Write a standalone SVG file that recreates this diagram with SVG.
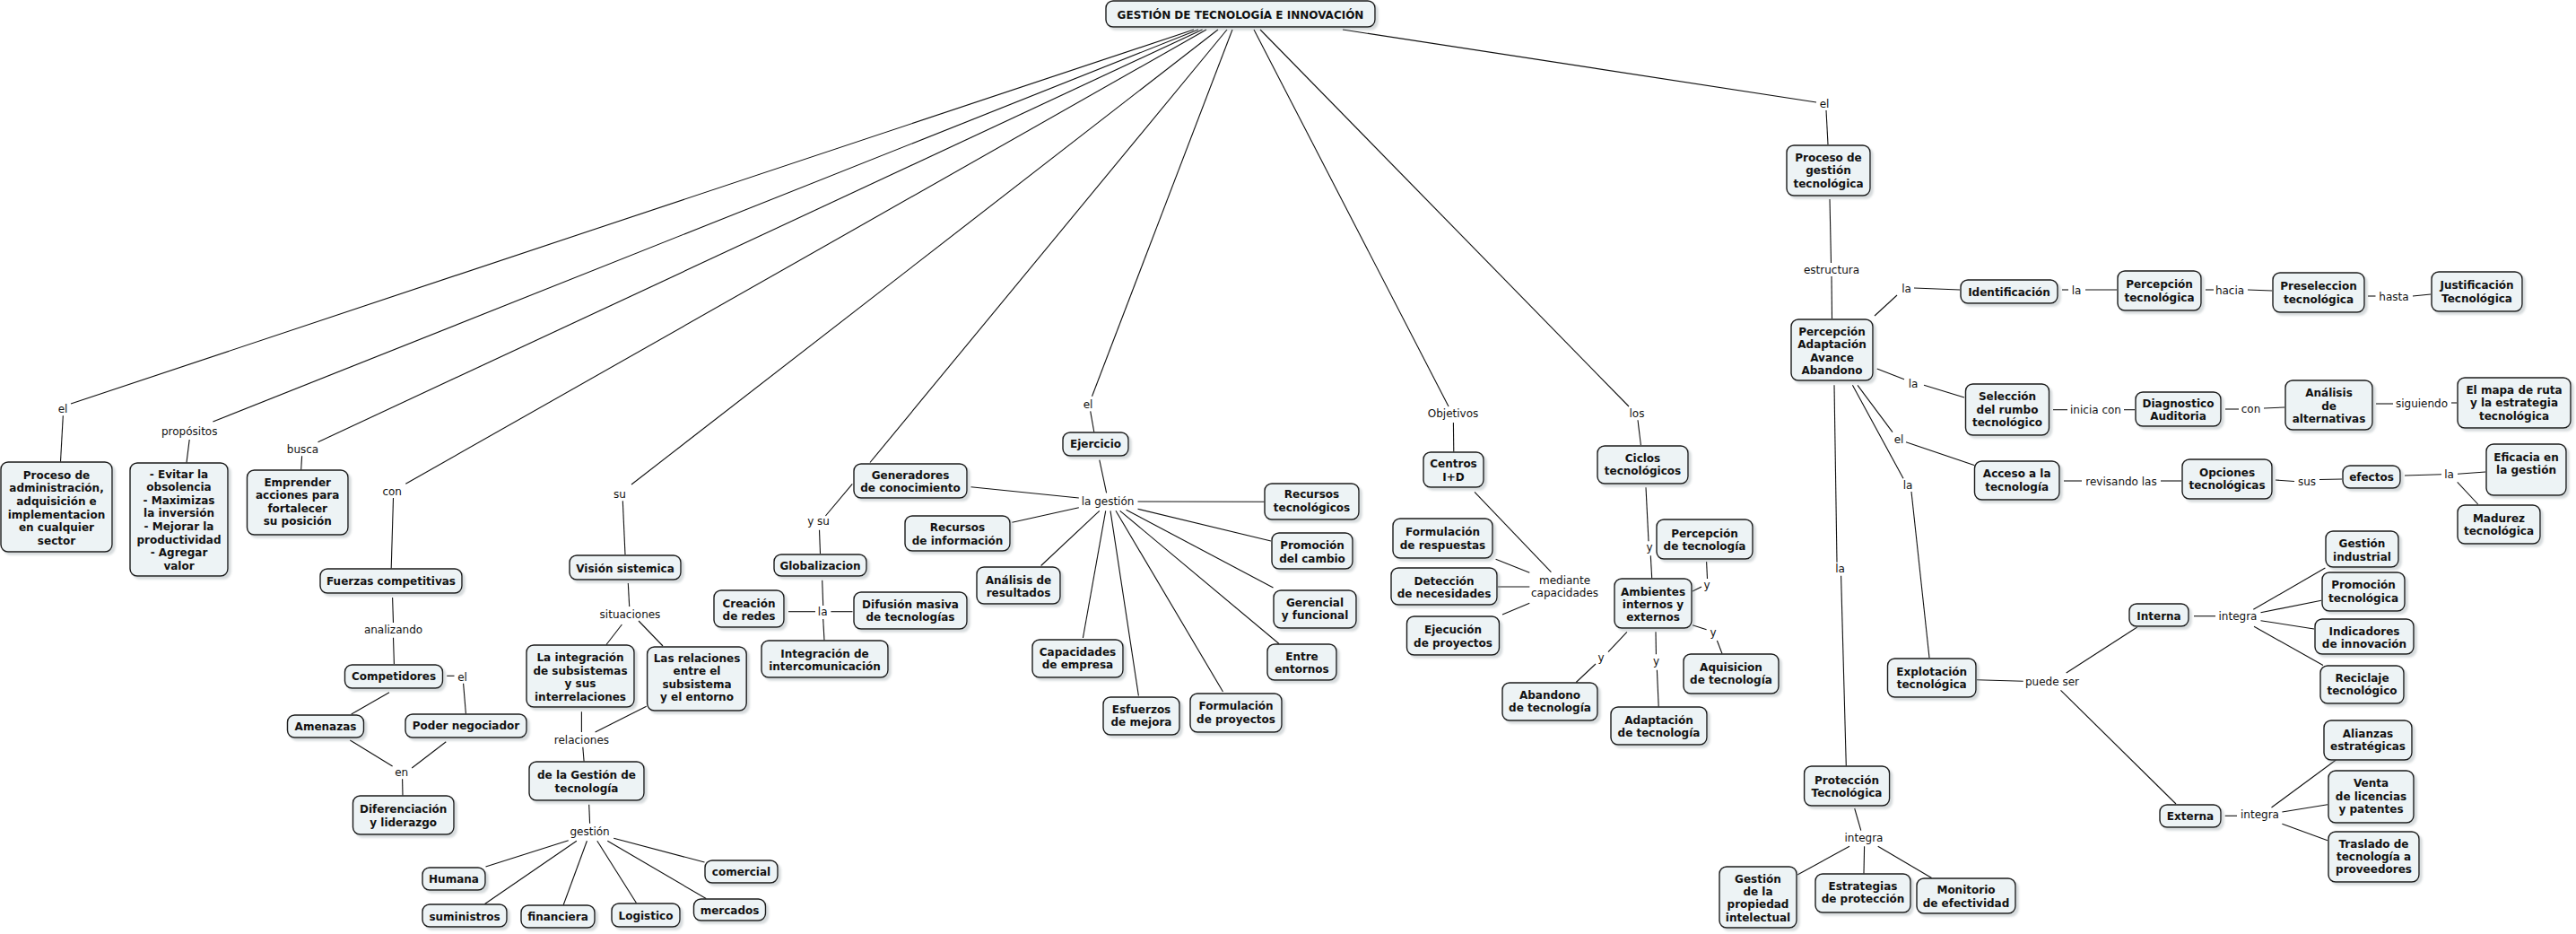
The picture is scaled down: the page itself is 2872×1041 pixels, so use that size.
<svg xmlns="http://www.w3.org/2000/svg" width="2872" height="1041" viewBox="0 0 2872 1041">
<defs>
<filter id="sh" x="-10%" y="-10%" width="130%" height="140%">
<feDropShadow dx="3" dy="3" stdDeviation="1.3" flood-color="#8c979d" flood-opacity="0.35"/>
</filter>
<style>
.node rect{fill:#edf3f5;stroke:#1a1a1a;stroke-width:1.4;filter:url(#sh)}
.node text{font-family:"DejaVu Sans",Verdana,sans-serif;font-weight:bold;font-size:12px;text-anchor:middle;fill:#111}
.lbl text{font-family:"DejaVu Sans",Verdana,sans-serif;font-size:12px;text-anchor:middle;fill:#111}
#connectors line{stroke:#111;stroke-width:1.1;fill:none}
</style>
</defs>
<rect width="2872" height="1041" fill="#fff"/>

<g id="connectors">
<line x1="1497" y1="33" x2="2025" y2="114"/>
<line x1="2036" y1="123" x2="2038" y2="161"/>
<line x1="2040" y1="222" x2="2041.5" y2="293"/>
<line x1="2042" y1="308" x2="2042.5" y2="355"/>
<line x1="2090" y1="352" x2="2115" y2="329"/>
<line x1="2134" y1="321" x2="2185" y2="323"/>
<line x1="2299" y1="323" x2="2306" y2="323"/>
<line x1="2325" y1="323" x2="2360" y2="323"/>
<line x1="2459" y1="323" x2="2468" y2="323"/>
<line x1="2506" y1="323" x2="2533" y2="324"/>
<line x1="2640" y1="330" x2="2648.5" y2="330"/>
<line x1="2690" y1="330" x2="2710" y2="328"/>
<line x1="2092.7" y1="411" x2="2123" y2="422.7"/>
<line x1="2145" y1="429.3" x2="2190" y2="443"/>
<line x1="2289" y1="456.7" x2="2305" y2="456.7"/>
<line x1="2368" y1="456.7" x2="2380" y2="456.7"/>
<line x1="2481" y1="456" x2="2496" y2="456"/>
<line x1="2524" y1="455" x2="2547" y2="454"/>
<line x1="2649" y1="450" x2="2668" y2="450"/>
<line x1="2733" y1="449" x2="2739" y2="449"/>
<line x1="2071" y1="429.3" x2="2110" y2="481.7"/>
<line x1="2125" y1="492.7" x2="2201" y2="518.5"/>
<line x1="2301" y1="536" x2="2321" y2="536"/>
<line x1="2409" y1="536" x2="2432" y2="536"/>
<line x1="2537" y1="535" x2="2558" y2="536.5"/>
<line x1="2586" y1="534.5" x2="2611" y2="534"/>
<line x1="2681" y1="530" x2="2722" y2="528.7"/>
<line x1="2740" y1="528.3" x2="2771" y2="526"/>
<line x1="2739.7" y1="537.3" x2="2762.7" y2="562"/>
<line x1="2065.4" y1="429.3" x2="2122" y2="533.3"/>
<line x1="2131" y1="548" x2="2151" y2="733"/>
<line x1="2204" y1="757.7" x2="2255.7" y2="759.3"/>
<line x1="2303.7" y1="750" x2="2382.8" y2="699"/>
<line x1="2297.5" y1="769.3" x2="2426" y2="896"/>
<line x1="2446" y1="686.7" x2="2470" y2="686.7"/>
<line x1="2512.3" y1="679.3" x2="2592.4" y2="633"/>
<line x1="2520.5" y1="682.7" x2="2588" y2="669.3"/>
<line x1="2520.5" y1="691.7" x2="2580" y2="701"/>
<line x1="2513" y1="698.3" x2="2590" y2="741.5"/>
<line x1="2480.7" y1="909.3" x2="2494" y2="909.3"/>
<line x1="2532.5" y1="900" x2="2604.4" y2="847"/>
<line x1="2544.4" y1="905" x2="2595" y2="896.7"/>
<line x1="2544.4" y1="918.3" x2="2595" y2="936.7"/>
<line x1="2045" y1="429.3" x2="2048" y2="626.7"/>
<line x1="2052.6" y1="641.7" x2="2058.3" y2="853.5"/>
<line x1="2067.7" y1="901" x2="2074.8" y2="925.7"/>
<line x1="2062" y1="943.3" x2="2004" y2="975"/>
<line x1="2078.6" y1="943.3" x2="2078" y2="973.5"/>
<line x1="2093.7" y1="943.3" x2="2153.6" y2="978.5"/>
<line x1="1398" y1="33" x2="1615" y2="453"/>
<line x1="1620.4" y1="471" x2="1620.8" y2="503.5"/>
<line x1="1644" y1="548.3" x2="1729.4" y2="637.7"/>
<line x1="1667.6" y1="623.3" x2="1705.3" y2="638.3"/>
<line x1="1670" y1="654" x2="1705.3" y2="654"/>
<line x1="1675" y1="685" x2="1705.3" y2="672.3"/>
<line x1="1405" y1="33" x2="1816" y2="453"/>
<line x1="1826" y1="468.3" x2="1829.4" y2="496"/>
<line x1="1835" y1="543.3" x2="1838" y2="603.3"/>
<line x1="1840.3" y1="619.3" x2="1841.7" y2="644.5"/>
<line x1="1902.6" y1="626" x2="1903.5" y2="645"/>
<line x1="1897" y1="654" x2="1887" y2="659"/>
<line x1="1887" y1="696.7" x2="1902.6" y2="701.7"/>
<line x1="1914.4" y1="714" x2="1920" y2="728.5"/>
<line x1="1846" y1="704.3" x2="1846.4" y2="729.3"/>
<line x1="1847.4" y1="746.7" x2="1849.2" y2="787.5"/>
<line x1="1813.9" y1="704.3" x2="1793" y2="726.7"/>
<line x1="1779" y1="740" x2="1757.2" y2="760.5"/>
<line x1="1374" y1="33" x2="1217.5" y2="441.7"/>
<line x1="1215.7" y1="458.3" x2="1219.8" y2="481.5"/>
<line x1="1225.8" y1="512.7" x2="1233.6" y2="549.3"/>
<line x1="1202.8" y1="555" x2="1082.5" y2="542.7"/>
<line x1="1202.8" y1="565.7" x2="1128.4" y2="582.3"/>
<line x1="1268.5" y1="559" x2="1409.5" y2="559.3"/>
<line x1="1268.5" y1="567.3" x2="1417" y2="603"/>
<line x1="1255.6" y1="568.3" x2="1419.5" y2="655"/>
<line x1="1248.7" y1="569.3" x2="1426" y2="717.5"/>
<line x1="1244" y1="569.3" x2="1363.5" y2="771"/>
<line x1="1238" y1="569.3" x2="1269.4" y2="775.5"/>
<line x1="1232.7" y1="569.3" x2="1207.4" y2="711"/>
<line x1="1225.8" y1="569.3" x2="1160.6" y2="630.5"/>
<line x1="1368" y1="33" x2="970" y2="515.5"/>
<line x1="950.3" y1="539.3" x2="920.4" y2="575"/>
<line x1="913.5" y1="590.7" x2="914.5" y2="617"/>
<line x1="916.7" y1="646.7" x2="917.7" y2="675"/>
<line x1="879" y1="681.7" x2="909" y2="681.7"/>
<line x1="926.4" y1="681.7" x2="950.5" y2="681.7"/>
<line x1="917.7" y1="690" x2="919" y2="713.5"/>
<line x1="1358" y1="33" x2="704" y2="540"/>
<line x1="694.3" y1="558.3" x2="697" y2="618"/>
<line x1="700.3" y1="650" x2="701.7" y2="676"/>
<line x1="693.4" y1="696" x2="676" y2="718.5"/>
<line x1="712" y1="692" x2="739" y2="720"/>
<line x1="648.4" y1="793.3" x2="648.4" y2="816"/>
<line x1="720.7" y1="787.3" x2="663.6" y2="816"/>
<line x1="649.8" y1="832.7" x2="651.1" y2="848.5"/>
<line x1="656.7" y1="896.7" x2="657.6" y2="917.7"/>
<line x1="633.7" y1="936.7" x2="541.5" y2="966"/>
<line x1="642.9" y1="937.3" x2="540.5" y2="1007.5"/>
<line x1="654.4" y1="937.3" x2="628.2" y2="1008.5"/>
<line x1="665.8" y1="937.3" x2="709.5" y2="1006.5"/>
<line x1="677.3" y1="937.3" x2="787.2" y2="1001.5"/>
<line x1="684.2" y1="934.3" x2="785.5" y2="961"/>
<line x1="1345" y1="33" x2="452.3" y2="539.3"/>
<line x1="438.5" y1="555" x2="436.2" y2="633.5"/>
<line x1="437.6" y1="666" x2="438.5" y2="694"/>
<line x1="438.5" y1="710.7" x2="439.4" y2="740"/>
<line x1="498.2" y1="753.3" x2="506.5" y2="753.3"/>
<line x1="516.6" y1="761.7" x2="519.4" y2="795.5"/>
<line x1="434" y1="771.7" x2="391.7" y2="796"/>
<line x1="390.3" y1="825" x2="437.6" y2="854"/>
<line x1="497.3" y1="826.7" x2="459.2" y2="856"/>
<line x1="448.6" y1="868.3" x2="449" y2="886.5"/>
<line x1="1340.6" y1="33" x2="354.5" y2="492.7"/>
<line x1="336.6" y1="508.3" x2="335.7" y2="523.5"/>
<line x1="1336" y1="33" x2="237.4" y2="470"/>
<line x1="211.2" y1="490" x2="208" y2="515.5"/>
<line x1="1331" y1="33" x2="79" y2="450"/>
<line x1="70.3" y1="463.3" x2="67.5" y2="514.5"/>
</g>

<g id="labels" class="lbl">
<text x="2034" y="119.5">el</text>
<text x="2042" y="305">estructura</text>
<text x="2125.5" y="325.5">la</text>
<text x="2315" y="327.5">la</text>
<text x="2486" y="327.5">hacia</text>
<text x="2669" y="334.5">hasta</text>
<text x="2133" y="432">la</text>
<text x="2336.5" y="461">inicia con</text>
<text x="2509.5" y="459.5">con</text>
<text x="2700" y="453.5">siguiendo</text>
<text x="2117" y="494">el</text>
<text x="2365" y="540.5">revisando las</text>
<text x="2572" y="540.5">sus</text>
<text x="2730.5" y="533">la</text>
<text x="2127" y="544.5">la</text>
<text x="2051.5" y="638">la</text>
<text x="2288" y="763.5">puede ser</text>
<text x="2495" y="691">integra</text>
<text x="2519.5" y="912">integra</text>
<text x="2078" y="938">integra</text>
<text x="1620" y="465">Objetivos</text>
<text x="1744.5" y="650.5">mediante</text>
<text x="1744.5" y="665">capacidades</text>
<text x="1825" y="464.5">los</text>
<text x="1839" y="614">y</text>
<text x="1903" y="656">y</text>
<text x="1910" y="708.5">y</text>
<text x="1846.5" y="741">y</text>
<text x="1785" y="737">y</text>
<text x="1213" y="454.5">el</text>
<text x="1235" y="563">la gestión</text>
<text x="912.6" y="585">y su</text>
<text x="917.2" y="686">la</text>
<text x="70" y="459.5">el</text>
<text x="211.2" y="484.5">propósitos</text>
<text x="337.5" y="504.5">busca</text>
<text x="437.2" y="552">con</text>
<text x="691" y="554.5">su</text>
<text x="438.5" y="706">analizando</text>
<text x="515.5" y="758.5">el</text>
<text x="447.7" y="865">en</text>
<text x="702.5" y="688.5">situaciones</text>
<text x="648.4" y="828.5">relaciones</text>
<text x="657.6" y="931">gestión</text>
</g>

<g id="n-root" class="node"><rect x="1233" y="1" width="300" height="29" rx="8"/><text x="1383" y="21">GESTIÓN DE TECNOLOGÍA E INNOVACIÓN</text></g>
<g id="n-proceso-gestion" class="node"><rect x="1992" y="162" width="93" height="56" rx="8"/><text><tspan x="2038.5" y="179.5">Proceso de</tspan><tspan x="2038.5" y="194.2">gestión</tspan><tspan x="2038.5" y="208.8">tecnológica</tspan></text></g>
<g id="n-percepcion-adaptacion" class="node"><rect x="1997" y="356" width="91" height="68" rx="8"/><text><tspan x="2042.5" y="373.5">Percepción</tspan><tspan x="2042.5" y="388">Adaptación</tspan><tspan x="2042.5" y="402.5">Avance</tspan><tspan x="2042.5" y="417">Abandono</tspan></text></g>
<g id="n-identificacion" class="node"><rect x="2186" y="312" width="108" height="26" rx="8"/><text x="2240" y="329.5">Identificación</text></g>
<g id="n-percepcion-tecnologica" class="node"><rect x="2361" y="302" width="93" height="44" rx="8"/><text><tspan x="2407.5" y="321">Percepción</tspan><tspan x="2407.5" y="335.5">tecnológica</tspan></text></g>
<g id="n-preseleccion" class="node"><rect x="2534" y="304" width="102" height="44" rx="8"/><text><tspan x="2585" y="323">Preseleccion</tspan><tspan x="2585" y="337.5">tecnológica</tspan></text></g>
<g id="n-justificacion" class="node"><rect x="2711" y="303" width="101" height="44" rx="8"/><text><tspan x="2761.5" y="322">Justificación</tspan><tspan x="2761.5" y="336.7">Tecnológica</tspan></text></g>
<g id="n-seleccion" class="node"><rect x="2191.5" y="428" width="93" height="57" rx="8"/><text><tspan x="2238" y="446">Selección</tspan><tspan x="2238" y="460.5">del rumbo</tspan><tspan x="2238" y="475">tecnológico</tspan></text></g>
<g id="n-diagnostico" class="node"><rect x="2381" y="437" width="95" height="38" rx="8"/><text><tspan x="2428.5" y="453.5">Diagnostico</tspan><tspan x="2428.5" y="468">Auditoria</tspan></text></g>
<g id="n-analisis-alternativas" class="node"><rect x="2548" y="424" width="97" height="55" rx="8"/><text><tspan x="2596.5" y="442">Análisis</tspan><tspan x="2596.5" y="456.7">de</tspan><tspan x="2596.5" y="471">alternativas</tspan></text></g>
<g id="n-mapa-ruta" class="node"><rect x="2740" y="421" width="126" height="56" rx="8"/><text><tspan x="2803" y="438.5">El mapa de ruta</tspan><tspan x="2803" y="453">y la estrategia</tspan><tspan x="2803" y="467.7">tecnológica</tspan></text></g>
<g id="n-acceso" class="node"><rect x="2201.5" y="514" width="94.5" height="43" rx="8"/><text><tspan x="2248.7" y="532">Acceso a la</tspan><tspan x="2248.7" y="546.7">tecnología</tspan></text></g>
<g id="n-opciones" class="node"><rect x="2433" y="512" width="100" height="44" rx="8"/><text><tspan x="2483" y="530.5">Opciones</tspan><tspan x="2483" y="545">tecnológicas</tspan></text></g>
<g id="n-efectos" class="node"><rect x="2612" y="519" width="64" height="25" rx="8"/><text x="2644" y="536">efectos</text></g>
<g id="n-eficacia" class="node"><rect x="2772" y="495" width="89" height="57" rx="8"/><text><tspan x="2816.5" y="513.5">Eficacia en</tspan><tspan x="2816.5" y="528">la gestión</tspan></text></g>
<g id="n-madurez" class="node"><rect x="2740" y="563" width="92" height="43" rx="8"/><text><tspan x="2786" y="581.7">Madurez</tspan><tspan x="2786" y="596">tecnológica</tspan></text></g>
<g id="n-gestion-industrial" class="node"><rect x="2593" y="592" width="81" height="40" rx="8"/><text><tspan x="2633.5" y="610">Gestión</tspan><tspan x="2633.5" y="624.5">industrial</tspan></text></g>
<g id="n-promocion-tecnologica" class="node"><rect x="2589" y="638" width="92" height="43" rx="8"/><text><tspan x="2635" y="656">Promoción</tspan><tspan x="2635" y="670.5">tecnológica</tspan></text></g>
<g id="n-indicadores" class="node"><rect x="2581" y="690" width="110" height="39" rx="8"/><text><tspan x="2636" y="707.7">Indicadores</tspan><tspan x="2636" y="722">de innovación</tspan></text></g>
<g id="n-reciclaje" class="node"><rect x="2587" y="742" width="93" height="42" rx="8"/><text><tspan x="2633.5" y="759.5">Reciclaje</tspan><tspan x="2633.5" y="773.7">tecnológico</tspan></text></g>
<g id="n-interna" class="node"><rect x="2374" y="673" width="66" height="25" rx="8"/><text x="2407" y="691">Interna</text></g>
<g id="n-externa" class="node"><rect x="2408" y="897" width="68" height="25" rx="8"/><text x="2442" y="913.7">Externa</text></g>
<g id="n-alianzas" class="node"><rect x="2591" y="803" width="98" height="44" rx="8"/><text><tspan x="2640" y="821.7">Alianzas</tspan><tspan x="2640" y="836">estratégicas</tspan></text></g>
<g id="n-venta" class="node"><rect x="2596" y="859" width="95" height="58" rx="8"/><text><tspan x="2643.5" y="877">Venta</tspan><tspan x="2643.5" y="891.7">de licencias</tspan><tspan x="2643.5" y="906.3">y patentes</tspan></text></g>
<g id="n-traslado" class="node"><rect x="2596" y="927" width="101" height="56" rx="8"/><text><tspan x="2646.5" y="944.5">Traslado de</tspan><tspan x="2646.5" y="958.7">tecnología a</tspan><tspan x="2646.5" y="973.3">proveedores</tspan></text></g>
<g id="n-explotacion" class="node"><rect x="2104.5" y="734" width="98.5" height="43" rx="8"/><text><tspan x="2153.7" y="752.7">Explotación</tspan><tspan x="2153.7" y="766.7">tecnológica</tspan></text></g>
<g id="n-proteccion" class="node"><rect x="2011.6" y="854" width="95" height="44" rx="8"/><text><tspan x="2059" y="873.5">Protección</tspan><tspan x="2059" y="887.7">Tecnológica</tspan></text></g>
<g id="n-propiedad" class="node"><rect x="1917" y="966" width="86" height="68" rx="8"/><text><tspan x="1960" y="983.5">Gestión</tspan><tspan x="1960" y="997.7">de la</tspan><tspan x="1960" y="1012">propiedad</tspan><tspan x="1960" y="1026.7">intelectual</tspan></text></g>
<g id="n-estrategias" class="node"><rect x="2024" y="974" width="106" height="43" rx="8"/><text><tspan x="2077" y="991.7">Estrategias</tspan><tspan x="2077" y="1006">de protección</tspan></text></g>
<g id="n-monitorio" class="node"><rect x="2137" y="979" width="110" height="39" rx="8"/><text><tspan x="2192" y="996">Monitorio</tspan><tspan x="2192" y="1010.5">de efectividad</tspan></text></g>
<g id="n-centros" class="node"><rect x="1587" y="504" width="67" height="39" rx="8"/><text><tspan x="1620.5" y="521">Centros</tspan><tspan x="1620.5" y="535.5">I+D</tspan></text></g>
<g id="n-formulacion-respuestas" class="node"><rect x="1553" y="578" width="111" height="44" rx="8"/><text><tspan x="1608.5" y="596.7">Formulación</tspan><tspan x="1608.5" y="611.5">de respuestas</tspan></text></g>
<g id="n-deteccion" class="node"><rect x="1551" y="633" width="118" height="41" rx="8"/><text><tspan x="1610" y="651.7">Detección</tspan><tspan x="1610" y="666">de necesidades</tspan></text></g>
<g id="n-ejecucion" class="node"><rect x="1568.5" y="687" width="103" height="43" rx="8"/><text><tspan x="1620" y="706">Ejecución</tspan><tspan x="1620" y="720.5">de proyectos</tspan></text></g>
<g id="n-ciclos" class="node"><rect x="1781" y="497" width="101" height="42" rx="8"/><text><tspan x="1831.5" y="514.5">Ciclos</tspan><tspan x="1831.5" y="528.7">tecnológicos</tspan></text></g>
<g id="n-percepcion-de-tecnologia" class="node"><rect x="1847" y="579" width="107" height="44" rx="8"/><text><tspan x="1900.5" y="598.5">Percepción</tspan><tspan x="1900.5" y="612.7">de tecnología</tspan></text></g>
<g id="n-ambientes" class="node"><rect x="1800" y="645" width="86" height="55" rx="8"/><text><tspan x="1843" y="663.5">Ambientes</tspan><tspan x="1843" y="677.7">internos y</tspan><tspan x="1843" y="692">externos</tspan></text></g>
<g id="n-aquisicion" class="node"><rect x="1877" y="729" width="106" height="44" rx="8"/><text><tspan x="1930" y="747.7">Aquisicion</tspan><tspan x="1930" y="762">de tecnología</tspan></text></g>
<g id="n-abandono" class="node"><rect x="1675" y="761" width="106" height="42" rx="8"/><text><tspan x="1728" y="778.7">Abandono</tspan><tspan x="1728" y="793">de tecnología</tspan></text></g>
<g id="n-adaptacion" class="node"><rect x="1796" y="788" width="107" height="42" rx="8"/><text><tspan x="1849.5" y="806.5">Adaptación</tspan><tspan x="1849.5" y="820.7">de tecnología</tspan></text></g>
<g id="n-recursos-tecnologicos" class="node"><rect x="1410" y="539" width="105" height="40" rx="8"/><text><tspan x="1462.5" y="555">Recursos</tspan><tspan x="1462.5" y="569.5">tecnológicos</tspan></text></g>
<g id="n-promocion-cambio" class="node"><rect x="1418" y="594" width="90" height="40" rx="8"/><text><tspan x="1463" y="612">Promoción</tspan><tspan x="1463" y="626.7">del cambio</tspan></text></g>
<g id="n-gerencial" class="node"><rect x="1420" y="658" width="92" height="42" rx="8"/><text><tspan x="1466" y="675.5">Gerencial</tspan><tspan x="1466" y="690">y funcional</tspan></text></g>
<g id="n-entre-entornos" class="node"><rect x="1413" y="718" width="77" height="40" rx="8"/><text><tspan x="1451.5" y="735.5">Entre</tspan><tspan x="1451.5" y="749.5">entornos</tspan></text></g>
<g id="n-formulacion-proyectos" class="node"><rect x="1327" y="773" width="102" height="43" rx="8"/><text><tspan x="1378" y="791">Formulación</tspan><tspan x="1378" y="805.5">de proyectos</tspan></text></g>
<g id="n-esfuerzos" class="node"><rect x="1230" y="777" width="85" height="42" rx="8"/><text><tspan x="1272.5" y="794.5">Esfuerzos</tspan><tspan x="1272.5" y="808.7">de mejora</tspan></text></g>
<g id="n-capacidades" class="node"><rect x="1151" y="713" width="101" height="42" rx="8"/><text><tspan x="1201.5" y="730.5">Capacidades</tspan><tspan x="1201.5" y="745">de empresa</tspan></text></g>
<g id="n-analisis-resultados" class="node"><rect x="1089" y="632" width="93" height="41" rx="8"/><text><tspan x="1135.5" y="650.5">Análisis de</tspan><tspan x="1135.5" y="665">resultados</tspan></text></g>
<g id="n-recursos-informacion" class="node"><rect x="1009" y="575" width="117" height="39" rx="8"/><text><tspan x="1067.5" y="592">Recursos</tspan><tspan x="1067.5" y="606.5">de información</tspan></text></g>
<g id="n-generadores" class="node"><rect x="952" y="517" width="126" height="38" rx="8"/><text><tspan x="1015" y="533.5">Generadores</tspan><tspan x="1015" y="547.8">de conocimiento</tspan></text></g>
<g id="n-ejercicio" class="node"><rect x="1185" y="482" width="73" height="26" rx="8"/><text x="1221.5" y="498.5">Ejercicio</text></g>
<g id="n-globalizacion" class="node"><rect x="863" y="618" width="103" height="24" rx="8"/><text x="914.5" y="634.5">Globalizacion</text></g>
<g id="n-creacion-redes" class="node"><rect x="796" y="658" width="78" height="41" rx="8"/><text><tspan x="835" y="676.7">Creación</tspan><tspan x="835" y="691">de redes</tspan></text></g>
<g id="n-difusion" class="node"><rect x="952" y="660" width="126" height="41" rx="8"/><text><tspan x="1015" y="677.7">Difusión masiva</tspan><tspan x="1015" y="692">de tecnologías</tspan></text></g>
<g id="n-integracion-intercom" class="node"><rect x="849" y="714" width="141" height="41" rx="8"/><text><tspan x="919.5" y="732.7">Integración de</tspan><tspan x="919.5" y="747">intercomunicación</tspan></text></g>
<g id="n-vision" class="node"><rect x="635" y="619" width="124" height="27" rx="8"/><text x="697" y="637.7">Visión sistemica</text></g>
<g id="n-la-integracion" class="node"><rect x="587" y="719" width="120" height="69" rx="8"/><text><tspan x="647" y="737">La integración</tspan><tspan x="647" y="751.7">de subsistemas</tspan><tspan x="647" y="766">y sus</tspan><tspan x="647" y="780.5">interrelaciones</tspan></text></g>
<g id="n-las-relaciones" class="node"><rect x="721.6" y="721" width="110.6" height="71" rx="8"/><text><tspan x="777" y="737.7">Las relaciones</tspan><tspan x="777" y="752">entre el</tspan><tspan x="777" y="766.5">subsistema</tspan><tspan x="777" y="781">y el entorno</tspan></text></g>
<g id="n-de-la-gestion" class="node"><rect x="590" y="849" width="128" height="43" rx="8"/><text><tspan x="654" y="867.7">de la Gestión de</tspan><tspan x="654" y="882.7">tecnología</tspan></text></g>
<g id="n-humana" class="node"><rect x="471" y="967" width="70" height="25" rx="8"/><text x="506" y="983.7">Humana</text></g>
<g id="n-suministros" class="node"><rect x="471" y="1008" width="94" height="25" rx="8"/><text x="518" y="1025.5">suministros</text></g>
<g id="n-financiera" class="node"><rect x="581" y="1009" width="82" height="25" rx="8"/><text x="622" y="1026">financiera</text></g>
<g id="n-logistico" class="node"><rect x="682" y="1007" width="76" height="26" rx="8"/><text x="720" y="1024.5">Logistico</text></g>
<g id="n-comercial" class="node"><rect x="786" y="959" width="81" height="25" rx="8"/><text x="826.5" y="976">comercial</text></g>
<g id="n-mercados" class="node"><rect x="773.5" y="1002" width="80" height="24" rx="8"/><text x="813.5" y="1018.5">mercados</text></g>
<g id="n-fuerzas" class="node"><rect x="357" y="634" width="158" height="27" rx="8"/><text x="436" y="651.5">Fuerzas competitivas</text></g>
<g id="n-competidores" class="node"><rect x="384.5" y="741" width="109" height="26" rx="8"/><text x="439" y="757.5">Competidores</text></g>
<g id="n-amenazas" class="node"><rect x="320.5" y="797" width="85" height="25" rx="8"/><text x="363" y="813.5">Amenazas</text></g>
<g id="n-poder" class="node"><rect x="452" y="796" width="135" height="26" rx="8"/><text x="519.5" y="812.5">Poder negociador</text></g>
<g id="n-diferenciacion" class="node"><rect x="393.5" y="887" width="112.5" height="43" rx="8"/><text><tspan x="449.7" y="906">Diferenciación</tspan><tspan x="449.7" y="921">y liderazgo</tspan></text></g>
<g id="n-proceso-admin" class="node"><rect x="1" y="515" width="124" height="100" rx="8"/><text><tspan x="63" y="533.7">Proceso de</tspan><tspan x="63" y="548.3">administración,</tspan><tspan x="63" y="563">adquisición e</tspan><tspan x="63" y="577.7">implementacion</tspan><tspan x="63" y="592.3">en cualquier</tspan><tspan x="63" y="607">sector</tspan></text></g>
<g id="n-propositos" class="node"><rect x="145" y="516" width="109" height="126" rx="8"/><text><tspan x="199.5" y="532.7">- Evitar la</tspan><tspan x="199.5" y="547.3">obsolencia</tspan><tspan x="199.5" y="561.7">- Maximizas</tspan><tspan x="199.5" y="576.3">la inversión</tspan><tspan x="199.5" y="591">- Mejorar la</tspan><tspan x="199.5" y="605.5">productividad</tspan><tspan x="199.5" y="620">- Agregar</tspan><tspan x="199.5" y="634.5">valor</tspan></text></g>
<g id="n-emprender" class="node"><rect x="275.5" y="524" width="112.5" height="72" rx="8"/><text><tspan x="331.7" y="541.7">Emprender</tspan><tspan x="331.7" y="556.3">acciones para</tspan><tspan x="331.7" y="570.7">fortalecer</tspan><tspan x="331.7" y="585">su posición</tspan></text></g>
</svg>
